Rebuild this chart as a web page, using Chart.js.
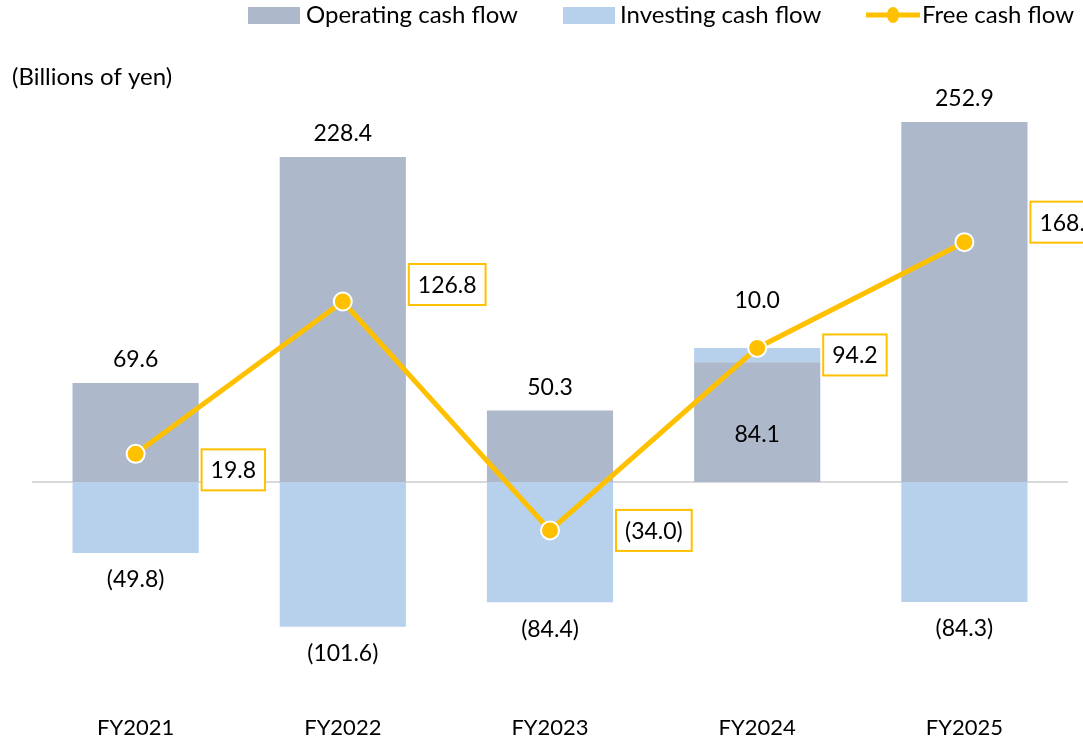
<!DOCTYPE html>
<html>
<head>
<meta charset="utf-8">
<script src="https://cdn.jsdelivr.net/npm/chart.js@4.4.1/dist/chart.umd.min.js"></script>
<style>
  html, body { margin: 0; padding: 0; background: #fff; }
  #wrap { width: 1083px; height: 741px; position: relative; }
</style>
</head>
<body>
<div id="wrap"><canvas id="cf"></canvas></div>
<script>
// values in billions of yen
const years = ['FY2021', 'FY2022', 'FY2023', 'FY2024', 'FY2025'];
const operatingCF = [69.6, 228.4, 50.3, 84.1, 252.9];
const investingCF = [-49.8, -101.6, -84.4, 10.0, -84.3];
const freeCF = [19.8, 126.8, -34.0, 94.2, 168.5];

// vertical nudges for the boxed free cash flow labels
const fcfLabelDy = [16, -17, 0, 7, -20];

const FONT = 'Lato, "Noto Sans", sans-serif';
const OP_COLOR = '#adb9ca';
const INV_COLOR = '#b7d0ec';
const FCF_COLOR = '#ffc000';

function fmt(v) {
    return v < 0 ? '(' + Math.abs(v).toFixed(1) + ')' : v.toFixed(1);
}

const cfLabels = {
    id: 'cfLabels',
    beforeDatasetsDraw(chart) {
        // zero line
        const ctx = chart.ctx;
        const y0 = chart.scales.y.getPixelForValue(0);
        ctx.save();
        ctx.strokeStyle = '#d9d9d9';
        ctx.lineWidth = 2;
        ctx.beginPath();
        ctx.moveTo(chart.chartArea.left, y0);
        ctx.lineTo(chart.chartArea.right, y0);
        ctx.stroke();
        ctx.restore();
    },
    afterDatasetsDraw(chart) {
        const ctx = chart.ctx;
        const opMeta = chart.getDatasetMeta(0);
        const invMeta = chart.getDatasetMeta(1);
        const fcfMeta = chart.getDatasetMeta(2);
        ctx.save();
        ctx.font = '23px ' + FONT;
        ctx.fillStyle = '#000';
        ctx.textAlign = 'center';
        ctx.textBaseline = 'middle';

        operatingCF.forEach((v, i) => {
            const bar = opMeta.data[i];
            if (investingCF[i] > 0) {
                ctx.fillText(fmt(v), bar.x, (bar.y + bar.base) / 2 + 12);
            } else {
                ctx.fillText(fmt(v), bar.x, bar.y - 23);
            }
        });

        investingCF.forEach((v, i) => {
            const bar = invMeta.data[i];
            if (v < 0) {
                ctx.fillText(fmt(v), bar.x, bar.y + 27);
            } else {
                ctx.fillText(fmt(v), bar.x, bar.y - 47);
            }
        });

        // boxed free cash flow labels
        freeCF.forEach((v, i) => {
            const pt = fcfMeta.data[i];
            const txt = fmt(v);
            const w = ctx.measureText(txt).width + 18;
            const h = 41;
            const left = pt.x + 66;
            const cy = pt.y + fcfLabelDy[i];
            ctx.fillStyle = '#fff';
            ctx.fillRect(left, cy - h / 2, w, h);
            ctx.strokeStyle = FCF_COLOR;
            ctx.lineWidth = 2;
            ctx.strokeRect(left, cy - h / 2, w, h);
            ctx.fillStyle = '#000';
            ctx.fillText(txt, left + w / 2, cy + 1);
        });

        // unit note
        ctx.textAlign = 'left';
        ctx.font = '24px ' + FONT;
        ctx.fillText('(Billions of yen)', 12, 77);
        ctx.restore();
    },
    afterDraw(chart) {
        // legend
        const ctx = chart.ctx;
        ctx.save();
        ctx.font = '24px ' + FONT;
        ctx.textBaseline = 'middle';
        ctx.fillStyle = OP_COLOR;
        ctx.fillRect(248, 7, 52, 17);
        ctx.fillStyle = '#000';
        ctx.fillText('Operating cash flow', 306, 15);
        ctx.fillStyle = INV_COLOR;
        ctx.fillRect(563, 7, 52, 17);
        ctx.fillStyle = '#000';
        ctx.fillText('Investing cash flow', 620, 15);
        ctx.strokeStyle = FCF_COLOR;
        ctx.lineWidth = 5;
        ctx.beginPath();
        ctx.moveTo(866, 15);
        ctx.lineTo(920, 15);
        ctx.stroke();
        ctx.fillStyle = FCF_COLOR;
        ctx.beginPath();
        ctx.ellipse(893, 15, 6, 8, 0, 0, Math.PI * 2);
        ctx.fill();
        ctx.fillStyle = '#000';
        ctx.fillText('Free cash flow', 922, 15);
        ctx.restore();
    }
};

new Chart(document.getElementById('cf'), {
    type: 'bar',
    data: {
        labels: years,
        datasets: [{
                label: 'Operating cash flow',
                data: operatingCF,
                backgroundColor: OP_COLOR,
                stack: 'cf',
                order: 2
            },
            {
                label: 'Investing cash flow',
                data: investingCF,
                backgroundColor: INV_COLOR,
                stack: 'cf',
                order: 2
            },
            {
                type: 'line',
                label: 'Free cash flow',
                data: freeCF,
                borderColor: FCF_COLOR,
                borderWidth: 5,
                pointBackgroundColor: FCF_COLOR,
                pointBorderColor: '#fff',
                pointBorderWidth: 2,
                pointRadius: 9,
                stack: 'fcf',
                order: 1
            }
        ]
    },
    options: {
        responsive: true,
        maintainAspectRatio: false,
        animation: false,
        layout: {
            padding: { left: 32, right: 15, top: 55, bottom: 0 }
        },
        datasets: {
            bar: { barPercentage: 1, categoryPercentage: 0.609 }
        },
        plugins: {
            legend: { display: false },
            tooltip: { enabled: false }
        },
        scales: {
            x: {
                stacked: true,
                grid: { display: false, drawTicks: false },
                border: { display: false },
                ticks: {
                    color: '#000',
                    font: { family: FONT, size: 22 },
                    padding: 0
                }
            },
            y: {
                display: false,
                stacked: true,
                min: -163.4,
                max: 300
            }
        }
    },
    plugins: [cfLabels]
});
</script>
</body>
</html>
